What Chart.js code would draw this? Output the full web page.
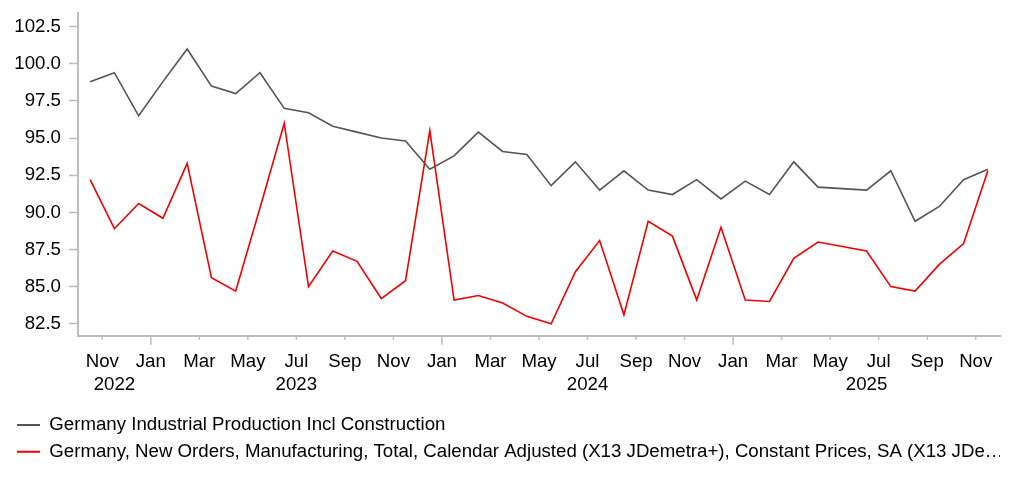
<!DOCTYPE html>
<html>
<head>
<meta charset="utf-8">
<title>Germany industrial production and new orders</title>
<script src="https://cdn.jsdelivr.net/npm/chart.js@4/dist/chart.umd.min.js"></script>
<style>
  html, body { margin: 0; padding: 0; background: #fff; }
  #wrap { width: 1022px; height: 487px; }
</style>
</head>
<body>
<div id="wrap"><canvas id="canvas" width="1022" height="487"></canvas></div>
<script>
// monthly observations, Oct 2022 .. Nov 2025
const months = [
  '2022-10', '2022-11', '2022-12',
  '2023-01', '2023-02', '2023-03', '2023-04', '2023-05', '2023-06',
  '2023-07', '2023-08', '2023-09', '2023-10', '2023-11', '2023-12',
  '2024-01', '2024-02', '2024-03', '2024-04', '2024-05', '2024-06',
  '2024-07', '2024-08', '2024-09', '2024-10', '2024-11', '2024-12',
  '2025-01', '2025-02', '2025-03', '2025-04', '2025-05', '2025-06',
  '2025-07', '2025-08', '2025-09', '2025-10', '2025-11'
];

const production = [
  98.8, 99.4, 96.5, 98.8, 101.0, 98.5, 98.0, 99.4, 97.0, 96.7,
  95.8, 95.4, 95.0, 94.8, 92.9, 93.8, 95.4, 94.1, 93.9, 91.8,
  93.4, 91.5, 92.8, 91.5, 91.2, 92.2, 90.9, 92.1, 91.2, 93.4,
  91.7, 91.6, 91.5, 92.8, 89.4, 90.4, 92.2, 92.9
];

const newOrders = [
  92.2, 88.9, 90.6, 89.6, 93.3, 85.6, 84.7, 90.3, 96.0, 85.0,
  87.4, 86.7, 84.2, 85.4, 95.5, 84.1, 84.4, 83.9, 83.0, 82.5,
  86.0, 88.1, 83.1, 89.4, 88.4, 84.1, 89.0, 84.1, 84.0, 86.9,
  88.0, 87.7, 87.4, 85.0, 84.7, 86.5, 87.9, 92.8
];

const seriesNames = [
  'Germany Industrial Production Incl Construction',
  'Germany, New Orders, Manufacturing, Total, Calendar Adjusted (X13 JDemetra+), Constant Prices, SA (X13 JDe\u2026'
];

const monthNames = ['Jan', 'Feb', 'Mar', 'Apr', 'May', 'Jun', 'Jul', 'Aug', 'Sep', 'Oct', 'Nov', 'Dec'];
const yTicks = [82.5, 85.0, 87.5, 90.0, 92.5, 95.0, 97.5, 100.0, 102.5];

// x axis runs in months counted from the first month's start
const firstYear = +months[0].slice(0, 4);
const firstMonth = +months[0].slice(5) - 1;
const xMax = months.length;

function monthOf(v) { return (firstMonth + v) % 12; }

function points(values) {
  return values.map(function (v, i) { return { x: i + 0.5, y: v }; });
}

// every other month gets a tick; Jan ones are longer
const xTickValues = [];
for (let v = 1; v < xMax; v++) {
  if (monthOf(v) % 2 === 0) xTickValues.push(v);
}

const FONT = 'Liberation Sans, Arial, sans-serif';
const AXIS = '#bdbdbd';

const axisExtras = {
  id: 'axisExtras',
  afterDraw(chart) {
    const x = chart.scales.x;
    const ctx = chart.ctx;
    const base = chart.chartArea.bottom;
    ctx.save();
    ctx.strokeStyle = AXIS;
    ctx.lineWidth = 1.5;
    xTickValues.forEach(function (v) {
      const px = x.getPixelForValue(v);
      const len = monthOf(v) === 0 ? 9 : 4;
      ctx.beginPath();
      ctx.moveTo(px, base);
      ctx.lineTo(px, base + len);
      ctx.stroke();
    });
    // year labels centred on the visible part of each year
    ctx.fillStyle = '#000';
    ctx.font = '18.67px ' + FONT;
    ctx.textAlign = 'center';
    ctx.textBaseline = 'middle';
    const lastYear = +months[months.length - 1].slice(0, 4);
    for (let yr = firstYear; yr <= lastYear; yr++) {
      const s = Math.max(0, (yr - firstYear) * 12 - firstMonth);
      const e = Math.min(xMax, (yr - firstYear + 1) * 12 - firstMonth);
      const px = x.getPixelForValue((s + e) / 2);
      ctx.fillText(String(yr), px, base + 49);
    }
    ctx.restore();
  }
};

const ctx = document.getElementById('canvas').getContext('2d');
window.myLine = new Chart(ctx, {
  type: 'line',
  data: {
    datasets: [
      {
        label: seriesNames[0],
        data: points(production),
        borderColor: '#555555',
        backgroundColor: '#555555',
        borderWidth: 1.6,
        pointRadius: 0,
        tension: 0
      },
      {
        label: seriesNames[1],
        data: points(newOrders),
        borderColor: '#f20000',
        backgroundColor: '#f20000',
        borderWidth: 1.6,
        pointRadius: 0,
        tension: 0
      }
    ]
  },
  options: {
    responsive: false,
    animation: false,
    layout: { padding: { left: 9, right: 22, top: 13, bottom: 16 } },
    scales: {
      x: {
        type: 'linear',
        min: 0,
        max: xMax,
        grid: { display: false, drawTicks: false },
        border: { display: true, color: AXIS, width: 2 },
        afterBuildTicks: function (scale) {
          scale.ticks = xTickValues.map(function (v) { return { value: v }; });
        },
        afterFit: function (scale) { scale.height = 72; },
        ticks: {
          autoSkip: false,
          maxRotation: 0,
          padding: 15,
          color: '#000',
          font: { family: FONT, size: 18.67 },
          callback: function (v) { return monthNames[monthOf(v)]; }
        }
      },
      y: {
        min: 81.7,
        max: 103.42,
        grid: { display: true, drawOnChartArea: false, tickLength: 9, tickColor: AXIS, tickWidth: 1.5 },
        border: { display: true, color: AXIS, width: 2 },
        afterBuildTicks: function (scale) {
          scale.ticks = yTicks.map(function (v) { return { value: v }; });
        },
        afterFit: function (scale) {
          scale.width = 69;
          // top label sits well below the axis end, no extra room needed
          scale.paddingTop = 0;
          scale.paddingBottom = 0;
        },
        ticks: {
          padding: 8,
          color: '#000',
          font: { family: FONT, size: 18.67 },
          callback: function (v) { return v.toFixed(1); }
        }
      }
    },
    plugins: {
      tooltip: { enabled: false },
      legend: {
        position: 'bottom',
        align: 'start',
        labels: {
          boxWidth: 23,
          boxHeight: 2,
          padding: 8,
          color: '#000',
          font: { family: FONT, size: 18.67 },
          generateLabels: function (chart) {
            return chart.data.datasets.map(function (ds, i) {
              return {
                text: ds.label,
                fillStyle: ds.borderColor,
                strokeStyle: ds.borderColor,
                lineWidth: 0,
                hidden: false,
                datasetIndex: i
              };
            });
          }
        }
      }
    }
  },
  plugins: [axisExtras]
});
</script>
</body>
</html>
